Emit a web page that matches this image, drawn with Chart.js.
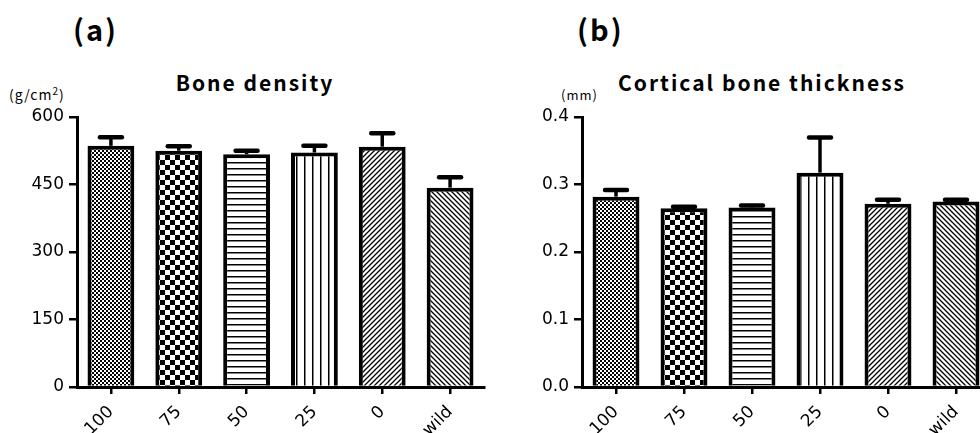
<!DOCTYPE html>
<html>
<head>
<meta charset="utf-8">
<script src="https://cdn.jsdelivr.net/npm/chart.js@4"></script>
<style>
  html, body { margin: 0; padding: 0; background: #fff; overflow: hidden; }
  body { width: 980px; height: 433px; position: relative; font-family: "Noto Sans CJK JP", "DejaVu Sans", sans-serif; }
  canvas { position: absolute; top: 0; }
  .lbl { position: absolute; color: #000; white-space: nowrap; line-height: 1; }
  .panel { font-size: 29px; font-weight: bold; letter-spacing: 2px; }
  .unit { font-size: 14px; letter-spacing: 1px; }
  .titulo { font-size: 21px; font-weight: bold; letter-spacing: 2px; text-align: center; }
</style>
</head>
<body>
<div class="lbl panel" style="left:73px; top:14px;">(a)</div>
<div class="lbl panel" style="left:577px; top:14px;">(b)</div>
<div class="lbl titulo" style="left:155px; width:200px; top:72px;">Bone density</div>
<div class="lbl titulo" style="left:612px; width:300px; top:72px;">Cortical bone thickness</div>
<div class="lbl unit" style="left:9px; top:86px;">(g/cm<sup style="font-size:10px; vertical-align:5px;">2</sup>)</div>
<div class="lbl unit" style="left:561px; top:88px; font-size:13px;">(mm)</div>
<canvas id="grafica" width="500" height="433" style="left:0px;"></canvas>
<canvas id="grafica2" width="490" height="433" style="left:520px;"></canvas>
<script>
// datos
var grupos = ['100', '75', '50', '25', '0', 'wild'];
var densidad = [536, 525, 517, 521, 534, 443];
var densidadSD = [19, 10, 8, 15, 30, 23];
var grosor = [0.282, 0.265, 0.266, 0.3175, 0.2715, 0.275];
var grosorSD = [0.010, 0.002, 0.003, 0.052, 0.006, 0.0025];

var fuente = '"DejaVu Sans", sans-serif';

// tramas de relleno
function trama(tipo) {
    var c = document.createElement('canvas');
    var g = c.getContext('2d');
    var s;
    if (tipo == 'fino') {
        s = 4; c.width = s; c.height = s;
        g.fillStyle = '#fff'; g.fillRect(0, 0, s, s);
        g.fillStyle = '#000'; g.fillRect(0, 0, 2, 2); g.fillRect(2, 2, 2, 2);
    } else if (tipo == 'grueso') {
        s = 10; c.width = s; c.height = s;
        g.fillStyle = '#fff'; g.fillRect(0, 0, s, s);
        g.fillStyle = '#000'; g.fillRect(0, 0, 5, 5); g.fillRect(5, 5, 5, 5);
    } else if (tipo == 'horiz') {
        s = 6; c.width = s; c.height = s;
        g.fillStyle = '#fff'; g.fillRect(0, 0, s, s);
        g.fillStyle = '#000'; g.fillRect(0, 0, s, 1.5);
    } else if (tipo == 'vert') {
        s = 8; c.width = s; c.height = s;
        g.fillStyle = '#fff'; g.fillRect(0, 0, s, s);
        g.fillStyle = '#000'; g.fillRect(0, 0, 1.5, s);
    } else {
        s = 5; c.width = s; c.height = s;
        g.fillStyle = '#fff'; g.fillRect(0, 0, s, s);
        g.strokeStyle = '#000'; g.lineWidth = 1.3;
        g.beginPath();
        if (tipo == 'diag') {
            g.moveTo(-1, s + 1); g.lineTo(s + 1, -1);
            g.moveTo(-1, 1); g.lineTo(1, -1);
            g.moveTo(s - 1, s + 1); g.lineTo(s + 1, s - 1);
        } else {
            g.moveTo(-1, -1); g.lineTo(s + 1, s + 1);
            g.moveTo(s - 1, -1); g.lineTo(s + 1, 1);
            g.moveTo(-1, s - 1); g.lineTo(1, s + 1);
        }
        g.stroke();
    }
    return document.createElement('canvas').getContext('2d').createPattern(c, 'repeat');
}
var rellenos = [trama('fino'), trama('grueso'), trama('horiz'), trama('vert'), trama('diag'), trama('anti')];

var barrasError = {
    id: 'barrasError',
    afterDatasetsDraw: function (chart) {
        var ctx = chart.ctx;
        var ds = chart.data.datasets[0];
        var meta = chart.getDatasetMeta(0);
        var y = chart.scales.y;
        ctx.save();
        ctx.strokeStyle = '#000';
        meta.data.forEach(function (bar, i) {
            var tope = y.getPixelForValue(ds.data[i] + ds.sd[i]);
            ctx.lineWidth = 3.5;
            ctx.lineCap = 'butt';
            ctx.beginPath();
            ctx.moveTo(bar.x, bar.y);
            ctx.lineTo(bar.x, tope);
            ctx.stroke();
            ctx.lineWidth = 4.5;
            ctx.lineCap = 'round';
            ctx.beginPath();
            ctx.moveTo(bar.x - 11, tope);
            ctx.lineTo(bar.x + 11, tope);
            ctx.stroke();
        });
        ctx.restore();
    }
};

function opciones(max, paso, anchoY, derecha, formato) {
    return {
        responsive: false,
        animation: false,
        devicePixelRatio: 1,
        layout: { padding: { left: 0, right: derecha, top: 117, bottom: 0 } },
        plugins: {
            legend: { display: false },
            tooltip: { enabled: false },
            title: { display: false }
        },
        scales: {
            x: {
                afterFit: function (s) { s.height = 46; },
                grid: { offset: false, drawOnChartArea: false, tickLength: 7, color: '#000', lineWidth: 2.5 },
                border: { color: '#000', width: 3 },
                ticks: { color: '#000', font: { family: fuente, size: 17 }, minRotation: 45, maxRotation: 45, padding: 8 }
            },
            y: {
                min: 0,
                max: max,
                afterFit: function (s) { s.width = anchoY; },
                grid: { drawOnChartArea: false, tickLength: 8, color: '#000', lineWidth: 2.5 },
                border: { color: '#000', width: 3 },
                ticks: { stepSize: paso, color: '#000', font: { family: fuente, size: 17 }, padding: 5, callback: formato }
            }
        }
    };
}

function conjunto(valores, sd) {
    return [{
        data: valores,
        sd: sd,
        backgroundColor: rellenos,
        borderColor: '#000',
        borderWidth: 4,
        borderSkipped: 'start',
        categoryPercentage: 1,
        barPercentage: 0.69
    }];
}

var grafica = new Chart(document.getElementById('grafica').getContext('2d'), {
    type: 'bar',
    data: { labels: grupos, datasets: conjunto(densidad, densidadSD) },
    options: opciones(600, 150, 77, 16, function (v) { return v; }),
    plugins: [barrasError]
});

var grafica2 = new Chart(document.getElementById('grafica2').getContext('2d'), {
    type: 'bar',
    data: { labels: grupos, datasets: conjunto(grosor, grosorSD) },
    options: opciones(0.4, 0.1, 62, 20, function (v) { return v.toFixed(1); }),
    plugins: [barrasError]
});
</script>
</body>
</html>
